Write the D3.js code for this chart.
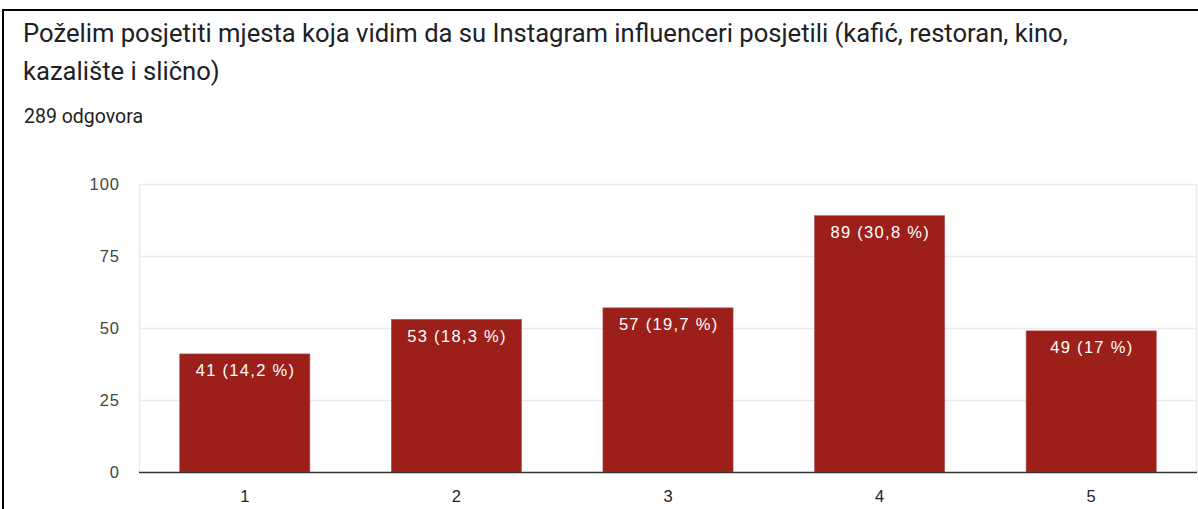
<!DOCTYPE html>
<html><head><meta charset="utf-8">
<script src="https://cdn.jsdelivr.net/npm/d3@7"></script>
<style>
html,body{margin:0;padding:0;background:#fff;overflow:hidden;}
svg{display:block;}
</style></head>
<body>
<script>
const categories = ["1","2","3","4","5"];
const values = [41,53,57,89,49];
const percentLabels = ["14,2 %","18,3 %","19,7 %","30,8 %","17 %"];
const yTicks = [0,25,50,75,100];
const titleLines = ["Poželim posjetiti mjesta koja vidim da su Instagram influenceri posjetili (kafić, restoran, kino,","kazalište i slično)"];
const subtitle = "289 odgovora";

const W = 1198, H = 509;
const svg = d3.select("body").append("svg").attr("width", W).attr("height", H);

// frame
svg.append("rect").attr("x",3).attr("y",10).attr("width",W+10).attr("height",H+10)
  .attr("fill","#fff").attr("stroke","#000").attr("stroke-width",2);

svg.selectAll("text.title").data(titleLines).enter().append("text")
  .attr("x",23).attr("y",(d,i)=>42+i*38)
  .attr("font-family","Roboto, sans-serif").attr("font-size",25.6)
  .attr("fill","#202124").text(d=>d);

svg.append("text").attr("x",24).attr("y",123)
  .attr("font-family","Roboto, sans-serif").attr("font-size",19.5)
  .attr("fill","#202124").text(subtitle);

const plot = {left:139, right:1197, top:184, bottom:472};
const x = d3.scaleBand().domain(categories).range([plot.left, plot.right]).paddingInner(0.385).paddingOuter(0.1925);
const y = d3.scaleLinear().domain([0,100]).range([plot.bottom, plot.top]);

const chartFont = "Arial, 'Liberation Sans', sans-serif";

// gridlines
svg.append("g").selectAll("line").data(yTicks.filter(t=>t>0)).enter().append("line")
  .attr("x1",plot.left).attr("x2",plot.right)
  .attr("y1",d=>y(d)+0.5).attr("y2",d=>y(d)+0.5)
  .attr("stroke","#ebebeb").attr("stroke-width",1.5);
svg.append("line").attr("x1",plot.left+0.5).attr("x2",plot.left+0.5).attr("y1",plot.top).attr("y2",plot.bottom)
  .attr("stroke","#ebebeb").attr("stroke-width",1.5);
svg.append("line").attr("x1",plot.right-0.5).attr("x2",plot.right-0.5).attr("y1",plot.top).attr("y2",plot.bottom)
  .attr("stroke","#ebebeb").attr("stroke-width",1.5);

// y axis labels
const yAxis = d3.axisLeft(y).tickValues(yTicks).tickSize(0).tickPadding(19);
const gy = svg.append("g").attr("transform",`translate(${plot.left},0)`).call(yAxis);
gy.select(".domain").remove();
gy.selectAll("text").attr("font-family",chartFont).attr("font-size",16.5).attr("letter-spacing",1).attr("fill","#444");

// bars
const bars = svg.append("g");
bars.selectAll("rect").data(values).enter().append("rect")
  .attr("x",(d,i)=>x(categories[i])).attr("width",x.bandwidth())
  .attr("y",d=>y(d)).attr("height",d=>plot.bottom-y(d))
  .attr("fill","#9c1f1a").attr("stroke","#b8504c").attr("stroke-width",0.6);

bars.selectAll("text").data(values).enter().append("text")
  .attr("x",(d,i)=>x(categories[i])+x.bandwidth()/2+0.7).attr("y",d=>y(d)+22.5)
  .attr("text-anchor","middle")
  .attr("font-family",chartFont).attr("font-size",16.5).attr("letter-spacing",1.3)
  .attr("fill","#fff").text((d,i)=>`${d} (${percentLabels[i]})`);

// x axis
const xAxis = d3.axisBottom(x).tickSize(0).tickPadding(18);
const gx = svg.append("g").attr("transform",`translate(0,${plot.bottom})`).call(xAxis);
gx.select(".domain").remove();
gx.selectAll("text").attr("font-family",chartFont).attr("font-size",16.5).attr("fill","#222");
svg.append("line").attr("x1",plot.left).attr("x2",plot.right).attr("y1",plot.bottom+0.5).attr("y2",plot.bottom+0.5)
  .attr("stroke","#333").attr("stroke-width",1.5);
</script>
</body></html>
